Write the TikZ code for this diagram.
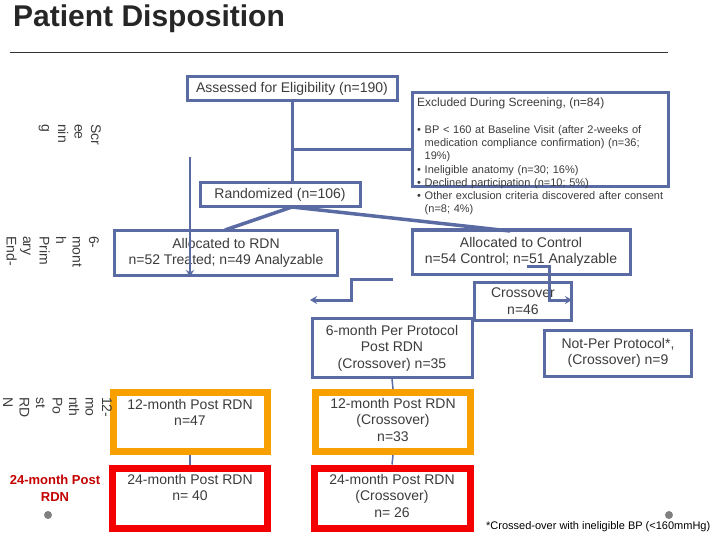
\documentclass[tikz,border=0pt]{standalone}
\usepackage{fontspec}
\setmainfont{Liberation Sans}
\usetikzlibrary{arrows.meta}
\definecolor{bb}{HTML}{5A6AA2}
\definecolor{tx}{HTML}{3C3C3C}
\definecolor{org}{HTML}{F7A000}
\definecolor{rd}{HTML}{F50000}
\begin{document}
\begin{tikzpicture}[x=1pt,y=-1pt,
  box/.style={draw=bb,line width=3pt,fill=white,text=tx,align=center,inner sep=0pt,font=\fontsize{14}{16.5}\selectfont},
  obox/.style={box,draw=org,line width=7pt},
  rbox/.style={box,draw=rd,line width=7pt},
  btxt/.style={anchor=north,text=tx,align=center,inner sep=0pt,font=\fontsize{14}{16.5}\selectfont},
  con/.style={draw=bb,line width=3pt},
  arr/.style={con,-{Stealth[length=7pt,width=8pt]}},
  vlab/.style={rotate=-90,anchor=north west,align=left,text=tx,inner sep=0pt,font=\fontsize{14}{16.5}\selectfont}]
\useasboundingbox (0,0) rectangle (720,540);
\node[anchor=west,font=\bfseries\fontsize{30}{34}\selectfont,text=black!85,inner sep=0pt] (title) at (13,19) {Patient Disposition};
\coordinate (l1) at (10,52); \coordinate (l2) at (668,52);
\draw[line width=0.8pt,black!80] (l1) -- (l2);

\node[box,minimum width=210pt,minimum height=24pt] (ass) at (292,89) {Assessed for Eligibility (n=190)};
\node[box,minimum width=256pt,minimum height=94pt] (exc) at (540,140) {};
\node[anchor=north west,text=tx,inner sep=0pt,font=\fontsize{12}{13}\selectfont] (exct) at (417,98) {Excluded During Screening, (n=84)};
\node[anchor=north west,text=tx,inner sep=0pt,align=left,text width=250pt,font=\fontsize{11}{13.3}\selectfont] (excb) at (417,125) {%
\textbullet\ BP \textless\ 160 at Baseline Visit (after 2-weeks of\\
\hphantom{\textbullet\ }medication compliance confirmation) (n=36;\\
\hphantom{\textbullet\ }19\%)\\
\textbullet\ Ineligible anatomy (n=30; 16\%)\\
\textbullet\ Declined participation (n=10; 5\%)\\
\textbullet\ Other exclusion criteria discovered after consent\\
\hphantom{\textbullet\ }(n=8; 4\%)};
\node[box,minimum width=160pt,minimum height=24pt] (ran) at (280,195) {Randomized (n=106)};
\draw[con] (ass.south) -- (ass.south |- ran.north);
\coordinate (j1) at (292,150);
\draw[con] (j1) -- (j1 -| exc.west);

\node[box,minimum width=223pt,minimum height=45pt] (rdn) at (226,253) {Allocated to RDN\\n=52 Treated; n=49 Analyzable};
\node[box,minimum width=218pt,minimum height=44pt] (ctl) at (521,252) {Allocated to Control\\n=54 Control; n=51 Analyzable};
\coordinate (rb) at (292,207);
\draw[con,line width=3.5pt] (rb) -- (225,230);
\draw[con,line width=3.5pt] (rb) -- (510,231);

\coordinate (a1) at (190,157); \coordinate (a2) at (190,277);
\draw[arr,line width=1.5pt] (a1) -- (a2);

\node[box,minimum width=97pt,minimum height=38pt] (cro) at (523,301) {Crossover\\n=46};
\coordinate (e1) at (393,279); \coordinate (e2) at (310,300);
\draw[arr] (e1) -- (351,279) -- (351,300) -- (e2);
\coordinate (f1) at (527,266); \coordinate (f2) at (572,300);
\draw[arr] (f1) -- (549,266) -- (549,300) -- (f2);

\node[box,minimum width=160pt,minimum height=59pt] (pp) at (392,348) {6-month Per Protocol\\Post RDN\\(Crossover) n=35};
\node[box,minimum width=147pt,minimum height=46pt] (npp) at (618,353) {Not-Per Protocol*,\\(Crossover) n=9};

\node[obox,minimum width=154pt,minimum height=59pt] (o1) at (190,422) {};
\node[btxt] at (190,399) {12-month Post RDN\\n=47};
\node[obox,minimum width=155pt,minimum height=59pt] (o2) at (393,422) {};
\node[btxt] at (393,398) {12-month Post RDN\\(Crossover)\\n=33};
\node[rbox,minimum width=155pt,minimum height=60pt] (r1) at (190,498) {};
\node[btxt] at (190,474) {24-month Post RDN\\n= 40};
\node[rbox,minimum width=156pt,minimum height=60pt] (r2) at (392,498) {};
\node[btxt] at (392,474) {24-month Post RDN\\(Crossover)\\n= 26};

\draw[con,line width=1.5pt] (pp.south) -- (o2.north);
\draw[con,line width=1.5pt] (o1.south) -- (r1.north);
\draw[con,line width=1.5pt] (o2.south) -- (r2.north);

\node[vlab] (s) at (101,124) {Scr\\ee\\nin\\g};
\node[vlab] (p) at (99,236) {6-\\mont\\h\\Prim\\ary\\End-};
\node[vlab] (t) at (112,397) {12-\\mo\\nth\\Po\\st\\RD\\N};
\node[text=rd!80!black,align=center,inner sep=0pt,font=\bfseries\fontsize{13}{17}\selectfont] (lab24) at (55,488) {24-month Post\\RDN};
\fill[gray] (48,515) circle (4pt);
\fill[gray] (669,515) circle (4pt);
\node[anchor=west,text=black,inner sep=0pt,font=\fontsize{11}{12}\selectfont] (fn) at (486,527) {*Crossed-over with ineligible BP (\textless160mmHg)};
\end{tikzpicture}
\end{document}
